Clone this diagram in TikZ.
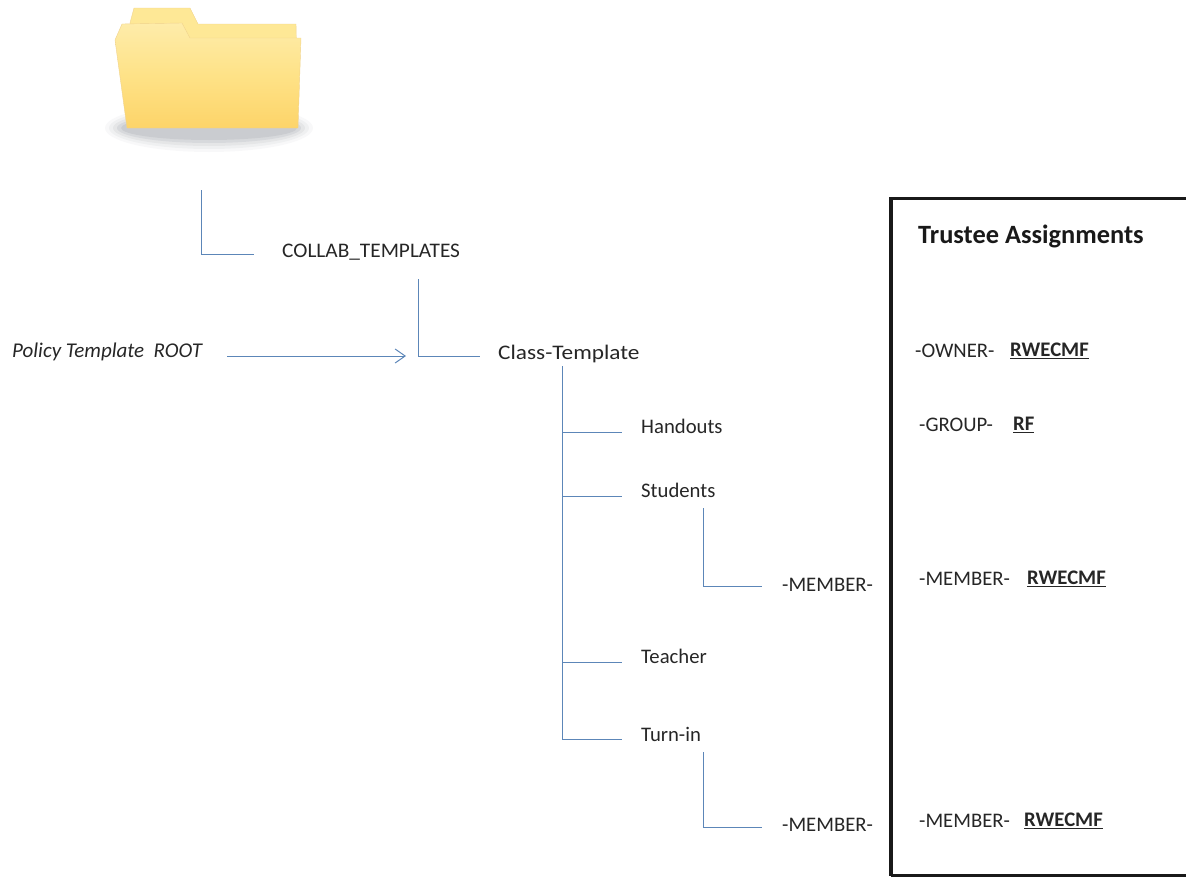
\documentclass[tikz,border=0pt]{standalone}
\usepackage{fontspec}
\usepackage{graphicx}
\setmainfont{Carlito}
\usetikzlibrary{arrows.meta}
\definecolor{conn}{RGB}{92,134,184}
\definecolor{foldertop}{RGB}{254,232,150}
\definecolor{foldermid}{RGB}{254,226,135}
\definecolor{folderbot}{RGB}{253,212,105}
\definecolor{folderlight}{RGB}{254,236,170}
\definecolor{folderedge}{RGB}{240,210,140}
\definecolor{shadowc}{RGB}{120,125,135}
\tikzset{x=1pt,y=-1pt,
 conline/.style={draw=conn,line width=1pt},
 lab/.style={anchor=west,inner sep=0pt,font=\fontsize{20.7}{24}\selectfont,text=black!85},
 perm/.style={anchor=west,inner sep=0pt,font=\fontsize{20.7}{24}\selectfont\bfseries,text=black!85},
}
\begin{document}
\begin{tikzpicture}
\useasboundingbox (0,0) rectangle (1186,878);
% folder shadow
\foreach \w/\h/\o in {104/24/.05,100/21/.07,96/18/.09,92/15/.12,88/12/.14}{
  \fill[shadowc,opacity=\o] (209,128) ellipse [x radius=\w,y radius=\h];
}
% folder
\path[fill=foldertop,draw=folderedge] (130,23) -- (134,8) -- (190,8) -- (198,24) -- (296,24) -- (297,70) -- (130,70) -- cycle;
\path[top color=folderlight,bottom color=folderbot,middle color=foldermid,draw=folderedge]
 (122,24) -- (182,23) -- (190,38) -- (301,38) -- (298,128) -- (127,128) -- (115,40) -- cycle;
% connectors
\coordinate (a0) at (201,190);
\coordinate (a1) at (201,254);
\coordinate (a2) at (254,254);
\node[lab] (collab) at (282,252) {\scalebox{1.03}[1]{COLLAB\_TEMPLATES}};
\coordinate (b0) at (418,279);
\coordinate (b1) at (418,356);
\coordinate (b2) at (480,356);
\node[lab] (class) at (498,353.5) {\scalebox{1.125}[1]{Class-Template}};
\node[lab,font=\fontsize{21}{24}\selectfont\itshape] (policy) at (12,352) {Policy Template\ \ ROOT};
\coordinate (p0) at (227,356);
\coordinate (p1) at (406,356);
\coordinate (c0) at (562,366);
\coordinate (c1) at (562,739);
\coordinate (c2) at (622,739);
\coordinate (h0) at (562,432);
\coordinate (h1) at (622,432);
\coordinate (s0) at (562,496);
\coordinate (s1) at (622,496);
\coordinate (t0) at (562,662);
\coordinate (t1) at (622,662);
\node[lab] (handouts) at (641,426) {Handouts};
\node[lab] (students) at (641,490) {Students};
\node[lab] (teacher) at (641,656) {Teacher};
\node[lab] (turnin) at (641,734) {Turn-in};
\coordinate (m0) at (703,508);
\coordinate (m1) at (703,586);
\coordinate (m2) at (762,586);
\node[lab] (mem1) at (782,585) {-MEMBER-};
\coordinate (n0) at (703,752);
\coordinate (n1) at (703,827);
\coordinate (n2) at (762,827);
\node[lab] (mem2) at (782,825) {-MEMBER-};
\draw[conline] (a0) -- (a1) -- (a2);
\draw[conline] (b0) -- (b1) -- (b2);
\draw[conline,-{Straight Barb[length=10pt,width=14pt,line width=1pt]}] (p0) -- (p1);
\draw[conline] (c0) -- (c1) -- (c2);
\draw[conline] (h0) -- (h1);
\draw[conline] (s0) -- (s1);
\draw[conline] (t0) -- (t1);
\draw[conline] (m0) -- (m1) -- (m2);
\draw[conline] (n0) -- (n1) -- (n2);
% box
\draw[black!90,line width=3.2pt] (891,875.5) -- (891,198.5) -- (1186,198.5);
\draw[black!90,line width=2.2pt] (891,875.5) -- (1186,875.5);
\node[anchor=west,inner sep=0pt,font=\fontsize{26.4}{30}\selectfont\bfseries,text=black!90] (title) at (918,236) {Trustee Assignments};
\node[lab] (owner) at (915,351) {-OWNER-};
\node[perm] (ownerp) at (1010,351) {\underline{RWECMF}};
\node[lab] (group) at (919,425) {-GROUP-};
\node[perm] (groupp) at (1013,425) {\underline{RF}};
\node[lab] (memr1) at (919,579) {-MEMBER-};
\node[perm] (memp1) at (1027,579) {\underline{RWECMF}};
\node[lab] (memr2) at (919,821) {-MEMBER-};
\node[perm] (memp2) at (1024,821) {\underline{RWECMF}};
\end{tikzpicture}
\end{document}
